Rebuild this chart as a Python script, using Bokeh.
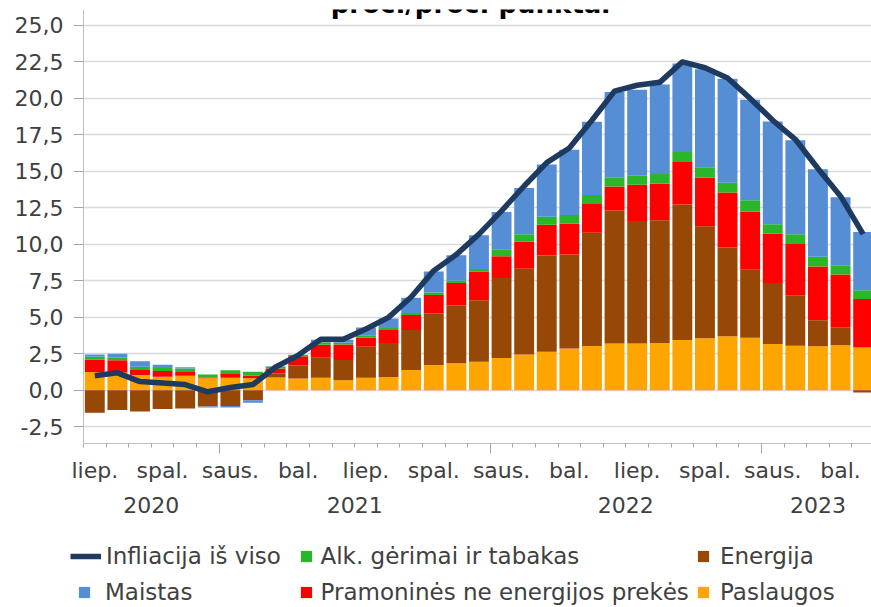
from bokeh.plotting import figure
from bokeh.models import (Range1d, FixedTicker, LinearAxis, ColumnDataSource, Legend,
                          LegendItem, Label, CustomJSTickFormatter, Grid)
from bokeh.embed import file_html
from bokeh.resources import INLINE

# ---------------- data ----------------
month_ticks = ["liep.", "spal.", "saus.", "bal.", "liep.", "spal.", "saus.", "bal.",
               "liep.", "spal.", "saus.", "bal."]
years = ["2020", "2021", "2022", "2023"]
months_per_year = [6, 12, 12, 5]

infliacija = [1.0, 1.2, 0.6, 0.5, 0.4, -0.1, 0.2, 0.4, 1.6, 2.4, 3.5, 3.5, 4.2, 5.0,
              6.4, 8.2, 9.3, 10.7, 12.3, 14.0, 15.6, 16.6, 18.5, 20.5, 20.9, 21.1,
              22.5, 22.1, 21.4, 20.0, 18.5, 17.2, 15.2, 13.3, 10.7]
paslaugos = [1.25, 1.22, 1.06, 0.94, 1.00, 0.83, 0.87, 0.83, 0.88, 0.81, 0.87, 0.70,
             0.86, 0.92, 1.39, 1.74, 1.85, 1.96, 2.22, 2.46, 2.65, 2.86, 3.04, 3.21,
             3.21, 3.25, 3.45, 3.57, 3.71, 3.60, 3.18, 3.06, 3.03, 3.09, 2.93]
energija = [-1.53, -1.34, -1.45, -1.27, -1.25, -1.10, -1.07, -0.68, 0.27, 0.90, 1.37,
            1.38, 2.12, 2.33, 2.74, 3.52, 3.97, 4.22, 5.48, 5.87, 6.58, 6.44, 7.76,
            9.11, 8.40, 8.40, 9.29, 7.67, 6.07, 4.66, 4.18, 3.45, 1.78, 1.23, -0.15]
pramonines = [0.84, 0.84, 0.34, 0.39, 0.25, 0.03, 0.25, 0.18, 0.34, 0.63, 0.89, 1.06,
              0.62, 0.89, 1.03, 1.28, 1.53, 1.96, 1.48, 1.87, 2.12, 2.12, 1.96, 1.64,
              2.47, 2.51, 2.90, 3.33, 3.77, 3.97, 3.36, 3.52, 3.68, 3.61, 3.33]
alk = [0.22, 0.18, 0.21, 0.21, 0.25, 0.23, 0.25, 0.27, 0.12, 0.08, 0.17, 0.12, 0.18,
       0.14, 0.14, 0.16, 0.16, 0.18, 0.48, 0.50, 0.55, 0.59, 0.62, 0.64, 0.62, 0.66,
       0.68, 0.71, 0.68, 0.80, 0.66, 0.66, 0.66, 0.64, 0.59]
maistas = [0.15, 0.27, 0.39, 0.21, 0.09, -0.07, -0.11, -0.16, 0.05, 0.02, 0.17, 0.20,
           0.53, 0.64, 1.05, 1.44, 1.74, 2.31, 2.56, 3.17, 3.58, 4.47, 5.02, 5.84, 5.89,
           6.14, 6.07, 6.71, 7.12, 6.87, 7.03, 6.44, 6.00, 4.66, 4.00]

ORANGE = "#FFA500"
BROWN = "#974706"
RED = "#FF0000"
GREEN = "#29B629"
BLUE = "#558ED5"
NAVY = "#1F3A60"
TXT = "#404040"
FONT = "DejaVu Sans"

series = [("Paslaugos", paslaugos, ORANGE),
          ("Energija", energija, BROWN),
          ("Pramoninės ne energijos prekės", pramonines, RED),
          ("Alk. gėrimai ir tabakas", alk, GREEN),
          ("Maistas", maistas, BLUE)]

n = len(infliacija)
xs = list(range(n))
data = {"x": xs, "total": infliacija}
pos_keys, neg_keys, colors = [], [], []
for i, (name, vals, col) in enumerate(series):
    data[f"p{i}"] = [max(v, 0.0) for v in vals]
    data[f"n{i}"] = [min(v, 0.0) for v in vals]
    pos_keys.append(f"p{i}")
    neg_keys.append(f"n{i}")
    colors.append(col)
src = ColumnDataSource(data)

# ---------------- main figure ----------------
p = figure(width=871, height=530, output_backend="svg", toolbar_location=None,
           x_range=Range1d(-0.5, 34.37), y_range=Range1d(-3.64, 26.09),
           x_axis_type=None, y_axis_type=None,
           min_border_left=83, min_border_right=0, min_border_top=9,
           min_border_bottom=87)
p.outline_line_color = None
p.background_fill_color = "white"
p.border_fill_color = "white"

yticks = [-2.5 + 2.5 * k for k in range(12)]
yticker = FixedTicker(ticks=yticks)
p.add_layout(Grid(dimension=1, ticker=yticker, grid_line_color="#D9D9D9",
                  grid_line_width=1.5))

p.vbar_stack(pos_keys, x="x", width=0.88, color=colors, line_color=None, source=src)
p.vbar_stack(neg_keys, x="x", width=0.88, color=colors, line_color=None, source=src)
line_r = p.line("x", "total", source=src, line_color=NAVY, line_width=5.5,
                line_join="round")

# y axis
yax = LinearAxis(ticker=yticker,
                 formatter=CustomJSTickFormatter(code="return tick.toFixed(1).replace('.', ',')"),
                 axis_line_color="#BFBFBF", major_tick_line_color="#A6A6A6",
                 major_tick_out=10, major_tick_in=0, minor_tick_line_color=None,
                 major_label_standoff=10, major_label_text_font=FONT,
                 major_label_text_font_size="22px", major_label_text_color=TXT)
p.add_layout(yax, "left")

# x axis: line + ticks
bounds = [k - 0.5 for k in range(n + 1)]
year_bounds = []
acc = 0
for c in months_per_year[:-1]:
    acc += c
    year_bounds.append(acc - 0.5)
xa = LinearAxis(ticker=FixedTicker(ticks=year_bounds, minor_ticks=bounds),
                formatter=CustomJSTickFormatter(code="return ''"),
                axis_line_color="#BFBFBF", major_tick_line_color="#A6A6A6",
                minor_tick_line_color="#A6A6A6", major_tick_out=10, major_tick_in=0,
                minor_tick_out=4, minor_tick_in=0, major_label_standoff=0,
                major_label_text_font_size="1px")
p.add_layout(xa, "below")

# month labels
mpos = list(range(0, n, 3))[:len(month_ticks)]
xb = LinearAxis(ticker=FixedTicker(ticks=mpos),
                major_label_overrides={m: t for m, t in zip(mpos, month_ticks)},
                axis_line_color=None, major_tick_line_color=None, minor_tick_line_color=None,
                major_tick_out=0, major_tick_in=0, minor_tick_out=0,
                major_label_standoff=4, major_label_text_font=FONT,
                major_label_text_font_size="22px", major_label_text_color=TXT)
p.add_layout(xb, "below")

# year labels
ypos = []
start = 0
for c in months_per_year:
    ypos.append(start + (c - 1) / 2)
    start += c
xc = LinearAxis(ticker=FixedTicker(ticks=ypos),
                major_label_overrides={yp: yl for yp, yl in zip(ypos, years)},
                axis_line_color=None, major_tick_line_color=None, minor_tick_line_color=None,
                major_tick_out=0, major_tick_in=0, minor_tick_out=0,
                major_label_standoff=11, major_label_text_font=FONT,
                major_label_text_font_size="22px", major_label_text_color=TXT)
p.add_layout(xc, "below")

# title (cut at top as in original)
p.add_layout(Label(x=387, y=440, x_units="screen", y_units="screen",
                   text="proc./proc. punktai", text_font=FONT, text_font_style="bold",
                   text_font_size="26px", text_align="center", text_baseline="alphabetic",
                   text_color="black"))

# ---------------- legend strip ----------------
lf = figure(width=871, height=77, output_backend="svg", toolbar_location=None,
            x_range=Range1d(0, 1), y_range=Range1d(0, 1),
            x_axis_type=None, y_axis_type=None, min_border=0)
lf.outline_line_color = None
lf.xgrid.visible = False
lf.ygrid.visible = False

leg_line = lf.line(x=[-10, -9], y=[-10, -10], line_color=NAVY, line_width=5.5)
squares = {}
for name, vals, col in series:
    squares[name] = lf.scatter(x=[-10], y=[-10], marker="square", fill_color=col,
                               line_color=None, size=11)

def add_legend(label, rend, loc, gw, standoff):
    lg = Legend(items=[LegendItem(label=label, renderers=[rend])], location=loc,
                glyph_width=gw, glyph_height=28, label_height=28, label_standoff=standoff,
                padding=0, margin=0, spacing=0, border_line_color=None,
                background_fill_alpha=0, label_text_font=FONT,
                label_text_font_size="23px", label_text_color=TXT)
    lf.add_layout(lg, "center")

add_legend("Infliacija iš viso", leg_line, (70, 37.5), 31, 5)
add_legend("Maistas", squares["Maistas"], (70, 1), 28, 7)
add_legend("Alk. gėrimai ir tabakas", squares["Alk. gėrimai ir tabakas"], (291.5, 37.5), 28, 1)
add_legend("Pramoninės ne energijos prekės", squares["Pramoninės ne energijos prekės"], (291.5, 1), 28, 1)
add_legend("Energija", squares["Energija"], (689, 37.5), 28, 3)
add_legend("Paslaugos", squares["Paslaugos"], (689, 1), 28, 3)

open("out.html", "w").write(file_html([p, lf], INLINE))
